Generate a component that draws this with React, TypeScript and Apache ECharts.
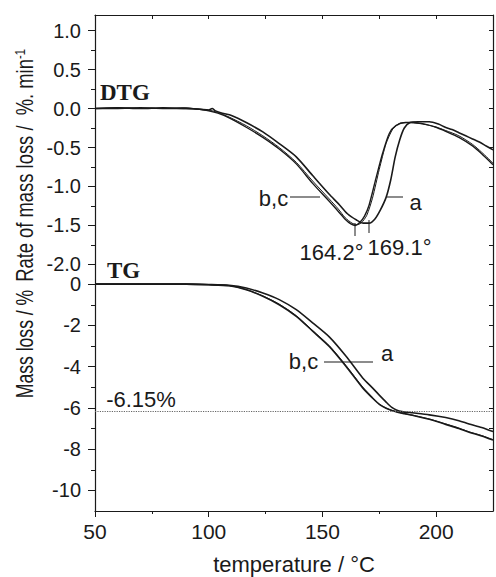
import React, { useEffect, useRef } from "react";
import * as echarts from "echarts";

// ---------- data ----------
// DTG (rate of mass loss, %/min) vs temperature (°C)
const dtgA_T = [50, 60, 70, 80, 90, 96, 100, 101.5, 103, 106, 110, 116.5, 123.8, 131, 138.5, 145.7, 153, 157, 161, 165, 168, 170.5, 173, 175.5, 178, 180, 182, 184, 186, 188.5, 192, 197, 201, 204, 207, 210, 213, 216, 219, 222, 225];
const dtgA_V = [0.0, 0.01, 0.0, 0.01, 0.0, -0.01, -0.02, 0.0, -0.03, -0.06, -0.09, -0.18, -0.3, -0.45, -0.62, -0.86, -1.1, -1.22, -1.35, -1.43, -1.47, -1.47, -1.42, -1.3, -1.14, -0.92, -0.62, -0.4, -0.25, -0.18, -0.17, -0.17, -0.2, -0.24, -0.27, -0.31, -0.35, -0.39, -0.43, -0.48, -0.53];

const dtgB_T = [50, 60, 70, 80, 90, 96, 100, 104, 109, 116.5, 123.8, 131, 138.5, 145.7, 153, 157, 160, 162.5, 164.5, 166.5, 168.5, 170.5, 173.5, 176.4, 179.4, 182.3, 186.5, 190, 195, 200, 204, 210, 216, 220, 225];
const dtgB_V = [0.0, 0.0, 0.01, 0.0, 0.0, -0.01, -0.03, -0.06, -0.12, -0.24, -0.37, -0.52, -0.71, -0.96, -1.19, -1.32, -1.42, -1.48, -1.5, -1.46, -1.38, -1.24, -0.9, -0.58, -0.32, -0.22, -0.18, -0.18, -0.2, -0.24, -0.29, -0.37, -0.48, -0.58, -0.72];

const dtgC_T = [50, 60, 70, 80, 90, 96, 100, 104, 109, 116.5, 123.8, 131, 138.5, 145.7, 153, 157, 160, 163, 165, 167, 169.5, 172, 175, 178, 181, 184, 188, 192, 196, 200, 204, 210, 216, 220, 225];
const dtgC_V = [0.0, 0.01, 0.0, 0.0, 0.01, -0.01, -0.02, -0.05, -0.11, -0.22, -0.35, -0.5, -0.69, -0.93, -1.16, -1.29, -1.4, -1.47, -1.49, -1.47, -1.37, -1.15, -0.78, -0.45, -0.26, -0.19, -0.18, -0.19, -0.21, -0.24, -0.28, -0.35, -0.46, -0.56, -0.7];

// TG (mass loss, %) vs temperature (°C)
const tgA_T = [50, 70, 90, 100, 109, 116.5, 123.8, 131, 138.5, 145.7, 153, 160.4, 167.7, 172, 175, 178, 180.5, 182.5, 185, 189.6, 197, 204.2, 210, 214.5, 220, 225];
const tgA_V = [0, 0, 0, -0.02, -0.06, -0.19, -0.43, -0.75, -1.24, -1.88, -2.56, -3.5, -4.55, -5.03, -5.38, -5.72, -5.98, -6.1, -6.18, -6.24, -6.34, -6.47, -6.62, -6.78, -6.95, -7.15];

const tgB_T = [50, 70, 90, 100, 109, 116.5, 123.8, 131, 138.5, 145.7, 153, 160.4, 167.7, 172, 175, 178, 180.5, 183, 186, 189.6, 197, 204.2, 210, 214.5, 220, 225];
const tgB_V = [0, 0, 0, -0.03, -0.08, -0.27, -0.59, -1.0, -1.56, -2.28, -3.02, -3.99, -5.03, -5.52, -5.83, -6.02, -6.13, -6.21, -6.28, -6.36, -6.55, -6.8, -7.0, -7.18, -7.36, -7.56];
const tgC_V = [0, 0, 0, -0.03, -0.07, -0.26, -0.57, -0.97, -1.53, -2.25, -2.99, -3.95, -4.99, -5.49, -5.81, -6.01, -6.12, -6.2, -6.27, -6.35, -6.54, -6.78, -6.98, -7.16, -7.34, -7.54];

const PLATEAU = -6.15;

// axis ticks
const xLabelTicks = [50, 100, 150, 200];
const xMinorTicks = [75, 125, 175];
const xTopTicks = [75, 100, 125, 150, 175, 200];
const dtgMajor = [-2.0, -1.5, -1.0, -0.5, 0.0, 0.5, 1.0];
const dtgMinor = [-1.75, -1.25, -0.75, -0.25, 0.25, 0.75];
const dtgRight = [-2.0, -1.75, -1.5, -1.25, -1.0, -0.75, -0.5, -0.25, 0.0, 0.25, 0.5, 0.75, 1.0];
const tgMajor = [-10, -8, -6, -4, -2, 0];
const tgMinor = [-9, -7, -5, -3, -1];
const tgRight = [-10, -9, -8, -7, -6, -5, -4, -3, -2, -1, 0];

const zip = (t: number[], v: number[]) => t.map((x, i) => [x, v[i]]);

const SANS = "Liberation Sans, Arial, sans-serif";
const SERIF = "Liberation Serif, Times New Roman, serif";
const INK = "#1a1a1a";

export default function App() {
  const ref = useRef<HTMLDivElement>(null);
  useEffect(() => {
    if (!ref.current) return;
    const chart = echarts.init(ref.current, undefined, { renderer: "svg" });
    const axisLine = { show: true, onZero: false, lineStyle: { color: INK, width: 1.2 } };
    const lineSeries = (name: string, data: number[][], xi: number, yi: number, extra: any = {}) => ({
      name,
      type: "line",
      xAxisIndex: xi,
      yAxisIndex: yi,
      data,
      showSymbol: false,
      symbol: "none",
      smooth: 0.25,
      lineStyle: { color: INK, width: 1.6 },
      silent: true,
      z: 3,
      ...extra,
    });
    const labelFont = { fontFamily: SANS, fontSize: 19, color: INK };
    const txt = (text: string, x: number, y: number, extra: any = {}) => ({
      type: "text", x, y,
      style: {
        text, fill: INK, fontFamily: SANS, fontSize: 22,
        align: "center", verticalAlign: "middle", textAlign: "center", textVerticalAlign: "middle",
        ...extra,
      },
    });
    chart.setOption({
      animation: false,
      backgroundColor: "#ffffff",
      grid: [
        { left: 95, top: 15, width: 398, height: 265 },
        { left: 95, top: 280, width: 398, height: 231 },
      ],
      xAxis: [
        {
          gridIndex: 0, type: "value", min: 50, max: 225, position: "top",
          axisLine, axisTick: { show: true, inside: true, length: 4, customValues: xTopTicks, lineStyle: { color: INK } },
          axisLabel: { show: false }, splitLine: { show: false },
        },
        {
          gridIndex: 1, type: "value", min: 50, max: 225, position: "bottom",
          axisLine, axisTick: { show: true, length: 6, customValues: xLabelTicks, lineStyle: { color: INK } },
          axisLabel: { ...labelFont, fontSize: 21, margin: 10, customValues: xLabelTicks },
          splitLine: { show: false },
          name: "temperature / °C", nameLocation: "middle", nameGap: 42,
          nameTextStyle: { fontFamily: SANS, fontSize: 22, color: INK },
        },
        {
          gridIndex: 1, type: "value", min: 50, max: 225, position: "bottom",
          axisLine: { show: false, onZero: false },
          axisTick: { show: true, length: 3, customValues: xMinorTicks, lineStyle: { color: INK } },
          axisLabel: { show: false }, splitLine: { show: false },
        },
      ],
      yAxis: [
        {
          gridIndex: 0, type: "value", min: -2.2, max: 1.2, position: "left",
          axisLine, axisTick: { show: true, length: 7, customValues: dtgMajor, lineStyle: { color: INK } },
          axisLabel: { ...labelFont, fontSize: 20, lineHeight: 18, margin: 14, customValues: dtgMajor, formatter: (v: number) => v.toFixed(1) },
          splitLine: { show: false },
        },
        {
          gridIndex: 0, type: "value", min: -2.2, max: 1.2, position: "left",
          axisLine: { show: false, onZero: false },
          axisTick: { show: true, length: 4, customValues: dtgMinor, lineStyle: { color: INK } },
          axisLabel: { show: false }, splitLine: { show: false },
        },
        {
          gridIndex: 0, type: "value", min: -2.2, max: 1.2, position: "right",
          axisLine, axisTick: { show: true, inside: true, length: 4, customValues: dtgRight, lineStyle: { color: INK } },
          axisLabel: { show: false }, splitLine: { show: false },
        },
        {
          gridIndex: 1, type: "value", min: -11, max: 0.2, position: "left",
          axisLine, axisTick: { show: true, length: 7, customValues: tgMajor, lineStyle: { color: INK } },
          axisLabel: { ...labelFont, fontSize: 20, lineHeight: 18, margin: 14, customValues: tgMajor, formatter: (v: number) => String(Math.round(v)) },
          splitLine: { show: false },
        },
        {
          gridIndex: 1, type: "value", min: -11, max: 0.2, position: "left",
          axisLine: { show: false, onZero: false },
          axisTick: { show: true, length: 4, customValues: tgMinor, lineStyle: { color: INK } },
          axisLabel: { show: false }, splitLine: { show: false },
        },
        {
          gridIndex: 1, type: "value", min: -11, max: 0.2, position: "right",
          axisLine, axisTick: { show: true, inside: true, length: 4, customValues: tgRight, lineStyle: { color: INK } },
          axisLabel: { show: false }, splitLine: { show: false },
        },
      ],
      series: [
        lineSeries("DTG a", zip(dtgA_T, dtgA_V), 0, 0),
        lineSeries("DTG b", zip(dtgB_T, dtgB_V), 0, 0, { lineStyle: { color: INK, width: 1.4 } }),
        lineSeries("DTG c", zip(dtgC_T, dtgC_V), 0, 0, { lineStyle: { color: INK, width: 1.0 } }),
        lineSeries("TG a", zip(tgA_T, tgA_V), 1, 3, {
          markLine: {
            silent: true, symbol: "none", label: { show: false },
            lineStyle: { color: "#666", type: "dotted", width: 1.2 },
            data: [{ yAxis: PLATEAU }],
          },
        }),
        lineSeries("TG b", zip(tgB_T, tgB_V), 1, 3),
        lineSeries("TG c", zip(tgB_T, tgC_V), 1, 3, { lineStyle: { color: INK, width: 1.0 } }),
      ],
      graphic: [
        // y-axis titles
        {
          type: "text", x: 25, y: 165.5, rotation: Math.PI / 2, scaleX: 0.8,
          style: {
            text: "{m|Rate of mass loss /  %. min}{s|-1}",
            fill: INK, align: "center", verticalAlign: "middle",
            textAlign: "center", textVerticalAlign: "middle",
            rich: {
              m: { fontFamily: SANS, fontSize: 23, fill: INK, color: INK },
              s: { fontFamily: SANS, fontSize: 14, fill: INK, color: INK, verticalAlign: "top" },
            },
          },
        },
        {
          type: "text", x: 25, y: 344, rotation: Math.PI / 2, scaleX: 0.765,
          style: {
            text: "Mass loss / %", fill: INK, fontFamily: SANS, fontSize: 23,
            align: "center", verticalAlign: "middle", textAlign: "center", textVerticalAlign: "middle",
          },
        },
        // panel titles
        txt("DTG", 100, 92, { fontFamily: SERIF, fontWeight: "bold", fontSize: 23, align: "left", textAlign: "left" }),
        txt("TG", 107, 270, { fontFamily: SERIF, fontWeight: "bold", fontSize: 23, align: "left", textAlign: "left" }),
        // DTG annotations
        { type: "line", shape: { x1: 290, y1: 197, x2: 320, y2: 197 }, style: { stroke: "#666", lineWidth: 1.5 } },
        { type: "line", shape: { x1: 387, y1: 197, x2: 403, y2: 197 }, style: { stroke: "#666", lineWidth: 1.5 } },
        { type: "line", shape: { x1: 355, y1: 223, x2: 355, y2: 236 }, style: { stroke: INK, lineWidth: 1 } },
        { type: "line", shape: { x1: 369, y1: 220, x2: 369, y2: 233 }, style: { stroke: INK, lineWidth: 1 } },
        txt("b,c", 273.5, 198.5),
        txt("a", 415.5, 202),
        txt("164.2°", 331.5, 252),
        txt("169.1°", 399.5, 247.5),
        // TG annotations
        { type: "line", shape: { x1: 324, y1: 362, x2: 373, y2: 362 }, style: { stroke: "#666", lineWidth: 1.5 } },
        txt("b,c", 303.5, 361.5),
        txt("a", 387, 353.5),
        txt("-6.15%", 141, 399.5),
      ],
    });
    return () => chart.dispose();
  }, []);
  return (
    <div
      ref={ref}
      style={{ position: "fixed", left: 0, top: 0, width: 496, height: 577, background: "#fff" }}
    />
  );
}
